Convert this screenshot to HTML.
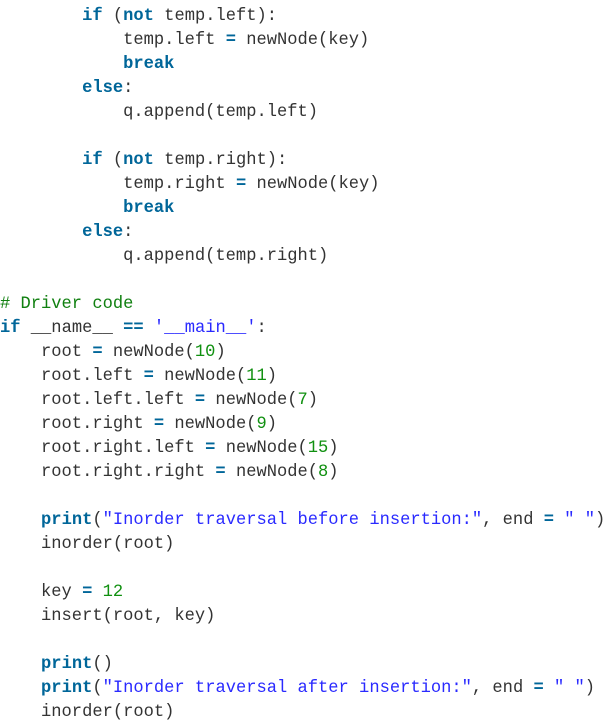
<!DOCTYPE html>
<html>
<head>
<meta charset="utf-8">
<style>
html,body{margin:0;padding:0;background:#fff;width:615px;height:725px;overflow:hidden}
pre{position:absolute;left:0;top:5px;margin:0;font-family:"Liberation Mono",monospace;font-size:17.1px;line-height:24px;color:#333;white-space:pre}
.k{color:#006699;font-weight:bold}
.s{color:#2a2aff}
.n{color:#109010}
.c{color:#108010}
</style>
</head>
<body>
<pre>        <span class="k">if</span> (<span class="k">not</span> temp.left):
            temp.left <span class="k">=</span> newNode(key)
            <span class="k">break</span>
        <span class="k">else</span>:
            q.append(temp.left)

        <span class="k">if</span> (<span class="k">not</span> temp.right):
            temp.right <span class="k">=</span> newNode(key)
            <span class="k">break</span>
        <span class="k">else</span>:
            q.append(temp.right)

<span class="c"># Driver code</span>
<span class="k">if</span> __name__ <span class="k">==</span> <span class="s">'__main__'</span>:
    root <span class="k">=</span> newNode(<span class="n">10</span>)
    root.left <span class="k">=</span> newNode(<span class="n">11</span>)
    root.left.left <span class="k">=</span> newNode(<span class="n">7</span>)
    root.right <span class="k">=</span> newNode(<span class="n">9</span>)
    root.right.left <span class="k">=</span> newNode(<span class="n">15</span>)
    root.right.right <span class="k">=</span> newNode(<span class="n">8</span>)

    <span class="k">print</span>(<span class="s">"Inorder traversal before insertion:"</span>, end <span class="k">=</span> <span class="s">" "</span>)
    inorder(root)

    key <span class="k">=</span> <span class="n">12</span>
    insert(root, key)

    <span class="k">print</span>()
    <span class="k">print</span>(<span class="s">"Inorder traversal after insertion:"</span>, end <span class="k">=</span> <span class="s">" "</span>)
    inorder(root)</pre>
</body>
</html>
